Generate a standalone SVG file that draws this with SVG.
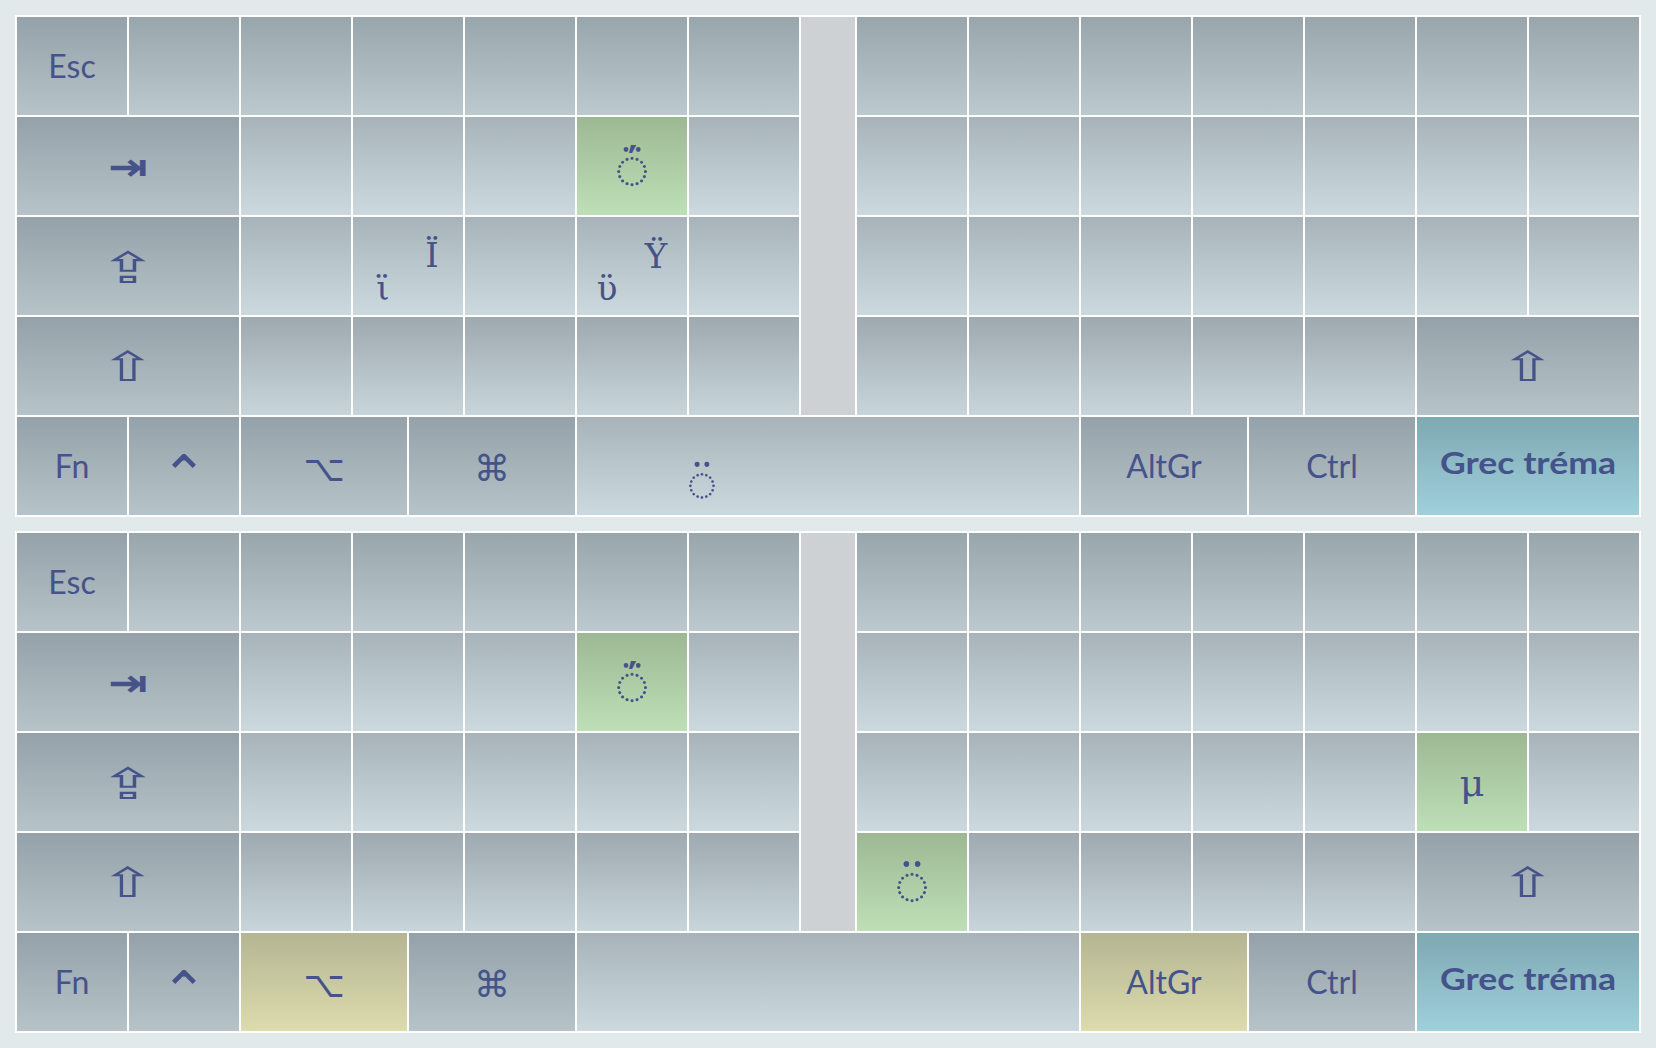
<svg xmlns="http://www.w3.org/2000/svg" width="1656" height="1048" viewBox="0 0 1656 1048">
<defs>
<linearGradient id="gMod" x1="0" y1="0" x2="0" y2="1"><stop offset="0" stop-color="#95a1a8"/><stop offset="1" stop-color="#b6c4ca"/></linearGradient>
<linearGradient id="gDark" x1="0" y1="0" x2="0" y2="1"><stop offset="0" stop-color="#98a5ab"/><stop offset="1" stop-color="#bccad0"/></linearGradient>
<linearGradient id="gMid" x1="0" y1="0" x2="0" y2="1"><stop offset="0" stop-color="#9ea9af"/><stop offset="1" stop-color="#c8d6dc"/></linearGradient>
<linearGradient id="gKey" x1="0" y1="0" x2="0" y2="1"><stop offset="0" stop-color="#a7b3b9"/><stop offset="1" stop-color="#ccdadf"/></linearGradient>
<linearGradient id="gGreen" x1="0" y1="0" x2="0" y2="1"><stop offset="0" stop-color="#9cb893"/><stop offset="1" stop-color="#bee0b7"/></linearGradient>
<linearGradient id="gBlue" x1="0" y1="0" x2="0" y2="1"><stop offset="0" stop-color="#7ea8b2"/><stop offset="1" stop-color="#9fd0dc"/></linearGradient>
<linearGradient id="gYellow" x1="0" y1="0" x2="0" y2="1"><stop offset="0" stop-color="#b4b592"/><stop offset="1" stop-color="#dddcae"/></linearGradient>
<style>
rect{stroke:#ffffff;stroke-width:2}
.mod{fill:url(#gMod)}
.dark{fill:url(#gDark)}
.mid{fill:url(#gMid)}
.key{fill:url(#gKey)}
.green{fill:url(#gGreen)}
.blue{fill:url(#gBlue)}
.yellow{fill:url(#gYellow)}
.gap{fill:#cdd1d3}
text{fill:#45538a}
.lbl{font-family:Lato,"Liberation Sans",sans-serif;font-size:32px;text-anchor:middle}
.bold{font-family:Lato,"Liberation Sans",sans-serif;font-size:31px;font-weight:bold;text-anchor:middle}
.sym{font-family:"DejaVu Sans",sans-serif;font-size:36px;text-anchor:middle}
.arr{font-family:"DejaVu Sans",sans-serif;font-size:38px;font-weight:bold;text-anchor:middle}
.arw{font-family:"DejaVu Sans",sans-serif;font-size:42px;text-anchor:middle}
.ch{font-family:"DejaVu Serif",serif;font-size:34px;text-anchor:middle}
.dk{font-family:"Noto Sans","DejaVu Sans",sans-serif;font-size:60px;text-anchor:middle}
.acc{font-size:48px}
</style>
</defs>
<rect x="0" y="0" width="1656" height="1048" fill="#e2e9ea" style="stroke:none"/>

<g id="board1">
<g id="b1-esc"><rect class="mod" x="16" y="16" width="112" height="100"/><text class="lbl" x="72" y="78">Esc</text></g>
<g id="b1-r1"><rect class="dark" x="128" y="16" width="112" height="100"/><rect class="dark" x="240" y="16" width="112" height="100"/><rect class="dark" x="352" y="16" width="112" height="100"/><rect class="dark" x="464" y="16" width="112" height="100"/><rect class="dark" x="576" y="16" width="112" height="100"/><rect class="dark" x="688" y="16" width="112" height="100"/><rect class="dark" x="856" y="16" width="112" height="100"/><rect class="dark" x="968" y="16" width="112" height="100"/><rect class="dark" x="1080" y="16" width="112" height="100"/><rect class="dark" x="1192" y="16" width="112" height="100"/><rect class="dark" x="1304" y="16" width="112" height="100"/><rect class="dark" x="1416" y="16" width="112" height="100"/><rect class="dark" x="1528" y="16" width="112" height="100"/></g>
<g id="b1-gap"><rect class="gap" x="800" y="16" width="56" height="400"/></g>
<g id="b1-tab"><rect class="mod" x="16" y="116" width="224" height="100"/><text class="arr" transform="translate(128 180) scale(1.25 1)" x="0" y="0">⇥</text></g>
<g id="b1-r2"><rect class="key" x="240" y="116" width="112" height="100"/><rect class="key" x="352" y="116" width="112" height="100"/><rect class="key" x="464" y="116" width="112" height="100"/><rect class="key" x="688" y="116" width="112" height="100"/><rect class="key" x="856" y="116" width="112" height="100"/><rect class="key" x="968" y="116" width="112" height="100"/><rect class="key" x="1080" y="116" width="112" height="100"/><rect class="key" x="1192" y="116" width="112" height="100"/><rect class="key" x="1304" y="116" width="112" height="100"/><rect class="key" x="1416" y="116" width="112" height="100"/><rect class="key" x="1528" y="116" width="112" height="100"/></g>
<g id="b1-dk-tonos"><rect class="green" x="576" y="116" width="112" height="100"/><text class="dk" x="632" y="189">◌<tspan class="acc" x="632" y="182">΅</tspan></text></g>
<g id="b1-caps"><rect class="mod" x="16" y="216" width="224" height="100"/><text class="arw" transform="translate(128 283) scale(1.7 1.02)" x="0" y="0">⇪</text></g>
<g id="b1-r3"><rect class="key" x="240" y="216" width="112" height="100"/><rect class="key" x="464" y="216" width="112" height="100"/><rect class="key" x="688" y="216" width="112" height="100"/><rect class="key" x="856" y="216" width="112" height="100"/><rect class="key" x="968" y="216" width="112" height="100"/><rect class="key" x="1080" y="216" width="112" height="100"/><rect class="key" x="1192" y="216" width="112" height="100"/><rect class="key" x="1304" y="216" width="112" height="100"/><rect class="key" x="1416" y="216" width="112" height="100"/><rect class="key" x="1528" y="216" width="112" height="100"/></g>
<g id="b1-iota"><rect class="key" x="352" y="216" width="112" height="100"/><text class="ch" x="383" y="300">ϊ</text><text class="ch" x="432" y="267">Ϊ</text></g>
<g id="b1-upsilon"><rect class="key" x="576" y="216" width="112" height="100"/><text class="ch" x="607" y="300">ϋ</text><text class="ch" x="656" y="268">Ϋ</text></g>
<g id="b1-lshift"><rect class="mod" x="16" y="316" width="224" height="100"/><text class="arw" transform="translate(128 381) scale(1.6 0.97)" x="0" y="0">⇧</text></g>
<g id="b1-r4"><rect class="mid" x="240" y="316" width="112" height="100"/><rect class="mid" x="352" y="316" width="112" height="100"/><rect class="mid" x="464" y="316" width="112" height="100"/><rect class="mid" x="576" y="316" width="112" height="100"/><rect class="mid" x="688" y="316" width="112" height="100"/><rect class="mid" x="856" y="316" width="112" height="100"/><rect class="mid" x="968" y="316" width="112" height="100"/><rect class="mid" x="1080" y="316" width="112" height="100"/><rect class="mid" x="1192" y="316" width="112" height="100"/><rect class="mid" x="1304" y="316" width="112" height="100"/></g>
<g id="b1-rshift"><rect class="mod" x="1416" y="316" width="224" height="100"/><text class="arw" transform="translate(1528 381) scale(1.6 0.97)" x="0" y="0">⇧</text></g>
<g id="b1-fn"><rect class="mod" x="16" y="416" width="112" height="100"/><text class="lbl" x="72" y="478">Fn</text></g>
<g id="b1-ctrl-sym"><rect class="mod" x="128" y="416" width="112" height="100"/><text class="sym" style="font-size:56px" x="184" y="495">⌃</text></g>
<g id="b1-opt"><rect class="mod" x="240" y="416" width="168" height="100"/><text class="sym" x="324" y="481">⌥</text></g>
<g id="b1-cmd"><rect class="mod" x="408" y="416" width="168" height="100"/><text class="sym" x="492" y="481">⌘</text></g>
<g id="b1-space"><rect class="key" x="576" y="416" width="504" height="100"/><text class="dk" style="font-size:52px" x="702" y="501">◌̈</text></g>
<g id="b1-altgr"><rect class="mod" x="1080" y="416" width="168" height="100"/><text class="lbl" x="1164" y="478">AltGr</text></g>
<g id="b1-ctrl"><rect class="mod" x="1248" y="416" width="168" height="100"/><text class="lbl" x="1332" y="478">Ctrl</text></g>
<g id="b1-grec"><rect class="blue" x="1416" y="416" width="224" height="100"/><text class="bold" x="1528" y="474" textLength="176" lengthAdjust="spacingAndGlyphs">Grec tréma</text></g>
</g>

<g id="board2">
<g id="b2-esc"><rect class="mod" x="16" y="532" width="112" height="100"/><text class="lbl" x="72" y="594">Esc</text></g>
<g id="b2-r1"><rect class="dark" x="128" y="532" width="112" height="100"/><rect class="dark" x="240" y="532" width="112" height="100"/><rect class="dark" x="352" y="532" width="112" height="100"/><rect class="dark" x="464" y="532" width="112" height="100"/><rect class="dark" x="576" y="532" width="112" height="100"/><rect class="dark" x="688" y="532" width="112" height="100"/><rect class="dark" x="856" y="532" width="112" height="100"/><rect class="dark" x="968" y="532" width="112" height="100"/><rect class="dark" x="1080" y="532" width="112" height="100"/><rect class="dark" x="1192" y="532" width="112" height="100"/><rect class="dark" x="1304" y="532" width="112" height="100"/><rect class="dark" x="1416" y="532" width="112" height="100"/><rect class="dark" x="1528" y="532" width="112" height="100"/></g>
<g id="b2-gap"><rect class="gap" x="800" y="532" width="56" height="400"/></g>
<g id="b2-tab"><rect class="mod" x="16" y="632" width="224" height="100"/><text class="arr" transform="translate(128 696) scale(1.25 1)" x="0" y="0">⇥</text></g>
<g id="b2-r2"><rect class="key" x="240" y="632" width="112" height="100"/><rect class="key" x="352" y="632" width="112" height="100"/><rect class="key" x="464" y="632" width="112" height="100"/><rect class="key" x="688" y="632" width="112" height="100"/><rect class="key" x="856" y="632" width="112" height="100"/><rect class="key" x="968" y="632" width="112" height="100"/><rect class="key" x="1080" y="632" width="112" height="100"/><rect class="key" x="1192" y="632" width="112" height="100"/><rect class="key" x="1304" y="632" width="112" height="100"/><rect class="key" x="1416" y="632" width="112" height="100"/><rect class="key" x="1528" y="632" width="112" height="100"/></g>
<g id="b2-dk-tonos"><rect class="green" x="576" y="632" width="112" height="100"/><text class="dk" x="632" y="705">◌<tspan class="acc" x="632" y="698">΅</tspan></text></g>
<g id="b2-caps"><rect class="mod" x="16" y="732" width="224" height="100"/><text class="arw" transform="translate(128 799) scale(1.7 1.02)" x="0" y="0">⇪</text></g>
<g id="b2-r3"><rect class="key" x="240" y="732" width="112" height="100"/><rect class="key" x="352" y="732" width="112" height="100"/><rect class="key" x="464" y="732" width="112" height="100"/><rect class="key" x="576" y="732" width="112" height="100"/><rect class="key" x="688" y="732" width="112" height="100"/><rect class="key" x="856" y="732" width="112" height="100"/><rect class="key" x="968" y="732" width="112" height="100"/><rect class="key" x="1080" y="732" width="112" height="100"/><rect class="key" x="1192" y="732" width="112" height="100"/><rect class="key" x="1304" y="732" width="112" height="100"/><rect class="key" x="1528" y="732" width="112" height="100"/></g>
<g id="b2-mu"><rect class="green" x="1416" y="732" width="112" height="100"/><text class="ch" style="font-size:38px" x="1472" y="796">μ</text></g>
<g id="b2-lshift"><rect class="mod" x="16" y="832" width="224" height="100"/><text class="arw" transform="translate(128 897) scale(1.6 0.97)" x="0" y="0">⇧</text></g>
<g id="b2-r4"><rect class="mid" x="240" y="832" width="112" height="100"/><rect class="mid" x="352" y="832" width="112" height="100"/><rect class="mid" x="464" y="832" width="112" height="100"/><rect class="mid" x="576" y="832" width="112" height="100"/><rect class="mid" x="688" y="832" width="112" height="100"/><rect class="mid" x="968" y="832" width="112" height="100"/><rect class="mid" x="1080" y="832" width="112" height="100"/><rect class="mid" x="1192" y="832" width="112" height="100"/><rect class="mid" x="1304" y="832" width="112" height="100"/></g>
<g id="b2-dk-diaeresis"><rect class="green" x="856" y="832" width="112" height="100"/><text class="dk" x="912" y="905">◌̈</text></g>
<g id="b2-rshift"><rect class="mod" x="1416" y="832" width="224" height="100"/><text class="arw" transform="translate(1528 897) scale(1.6 0.97)" x="0" y="0">⇧</text></g>
<g id="b2-fn"><rect class="mod" x="16" y="932" width="112" height="100"/><text class="lbl" x="72" y="994">Fn</text></g>
<g id="b2-ctrl-sym"><rect class="mod" x="128" y="932" width="112" height="100"/><text class="sym" style="font-size:56px" x="184" y="1011">⌃</text></g>
<g id="b2-opt"><rect class="yellow" x="240" y="932" width="168" height="100"/><text class="sym" x="324" y="997">⌥</text></g>
<g id="b2-cmd"><rect class="mod" x="408" y="932" width="168" height="100"/><text class="sym" x="492" y="997">⌘</text></g>
<g id="b2-space"><rect class="key" x="576" y="932" width="504" height="100"/></g>
<g id="b2-altgr"><rect class="yellow" x="1080" y="932" width="168" height="100"/><text class="lbl" x="1164" y="994">AltGr</text></g>
<g id="b2-ctrl"><rect class="mod" x="1248" y="932" width="168" height="100"/><text class="lbl" x="1332" y="994">Ctrl</text></g>
<g id="b2-grec"><rect class="blue" x="1416" y="932" width="224" height="100"/><text class="bold" x="1528" y="990" textLength="176" lengthAdjust="spacingAndGlyphs">Grec tréma</text></g>
</g>
</svg>
